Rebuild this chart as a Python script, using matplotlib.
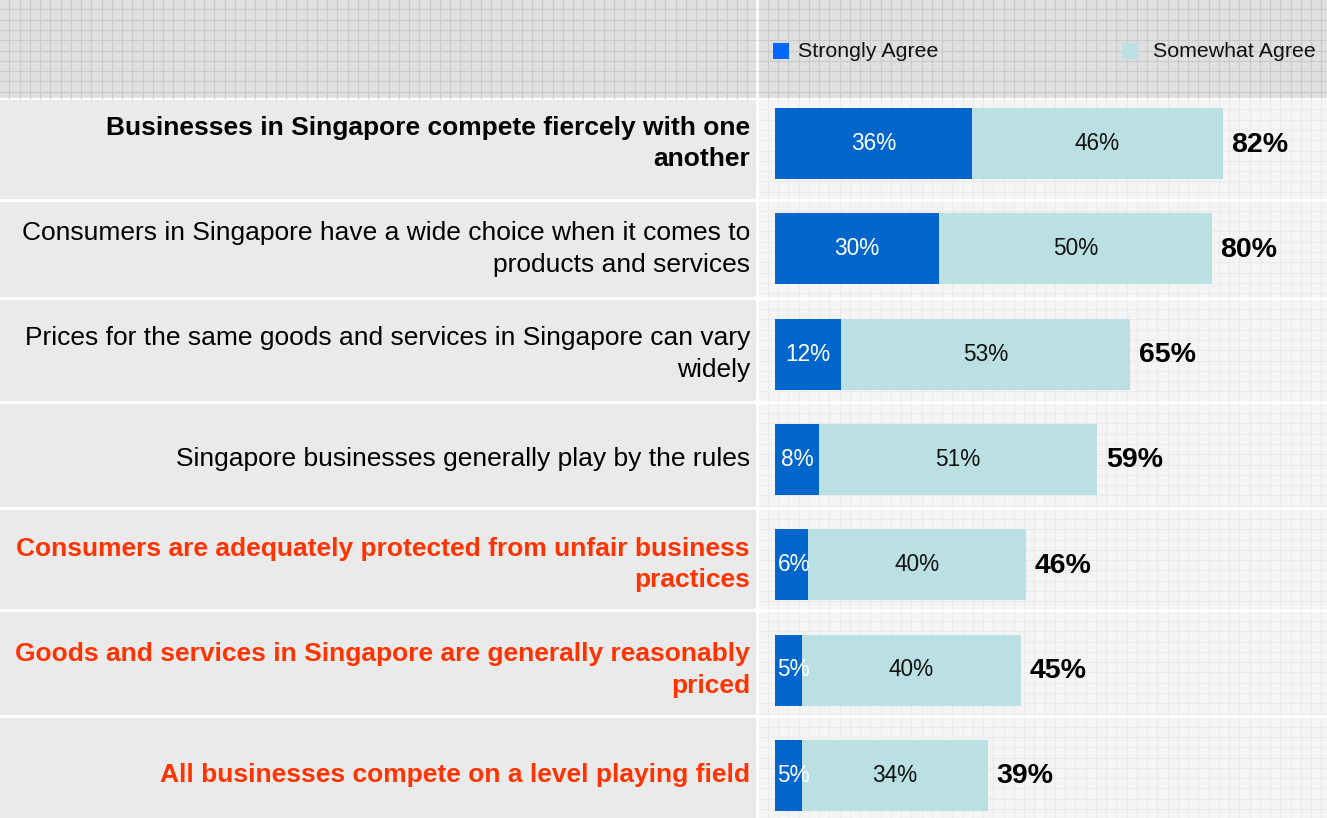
import matplotlib
matplotlib.use("Agg")
import matplotlib.pyplot as plt
import matplotlib.transforms as mtransforms
from matplotlib.patches import Rectangle
import numpy as np

plt.rcParams['font.family'] = ['Liberation Sans', 'DejaVu Sans']

# ---------------- data ----------------
categories = [
    "Businesses in Singapore compete fiercely with one\nanother",
    "Consumers in Singapore have a wide choice when it comes to\nproducts and services",
    "Prices for the same goods and services in Singapore can vary\nwidely",
    "Singapore businesses generally play by the rules",
    "Consumers are adequately protected from unfair business\npractices",
    "Goods and services in Singapore are generally reasonably\npriced",
    "All businesses compete on a level playing field",
]
label_styles = ["bold", "normal", "normal", "normal", "bold", "bold", "bold"]
label_colors = ["#000000", "#000000", "#000000", "#000000", "#FF3300", "#FF3300", "#FF3300"]
strongly_agree = [36, 30, 12, 8, 6, 5, 5]
somewhat_agree = [46, 50, 53, 51, 40, 40, 34]
totals = [82, 80, 65, 59, 46, 45, 39]
series_names = ["Strongly Agree", "Somewhat Agree"]

C_STRONG = "#0066CC"
C_SOME = "#BBE0E3"

W, H = 1327, 818
fig = plt.figure(figsize=(W / 100, H / 100), dpi=100)
fig.patch.set_facecolor("white")

# ---------------- background (pixel coords) ----------------
bg = fig.add_axes([0, 0, 1, 1], zorder=0)
bg.set_xlim(0, W)
bg.set_ylim(H, 0)
bg.axis("off")

header_top, header_bot = 0, 97.7
left_col = (0, 756)
right_col = (759, W)
for (x0, x1) in [left_col, right_col]:
    bg.add_patch(Rectangle((x0, header_top), x1 - x0, header_bot - header_top,
                           facecolor="#E0E0E0", edgecolor="none", zorder=1))
gx = np.arange(9.3, W, 10.25)
gy = np.arange(9.3, header_bot, 10.3)
for x in gx:
    for (x0, x1) in [left_col, right_col]:
        if x0 <= x <= x1:
            bg.plot([x, x], [header_top, header_bot], color="#CACACA", lw=0.8, zorder=2)
for y in gy:
    for (x0, x1) in [left_col, right_col]:
        bg.plot([x0, x1], [y, y], color="#CACACA", lw=0.8, zorder=2)

rows = [(100.3, 198.7), (201.7, 296.7), (300, 400.7), (404, 506.7),
        (510, 609), (612, 714.7), (717.7, 818)]
for (y0, y1) in rows:
    bg.add_patch(Rectangle((left_col[0], y0), left_col[1] - left_col[0], y1 - y0,
                           facecolor="#EAEAEA", edgecolor="none", zorder=1))
    bg.add_patch(Rectangle((right_col[0], y0), right_col[1] - right_col[0], y1 - y0,
                           facecolor="#F4F4F4", edgecolor="none", zorder=1))
    for x in gx:
        if right_col[0] <= x <= right_col[1]:
            bg.plot([x, x], [y0, y1], color="#EAEAEA", lw=0.7, zorder=2)
    for y in np.arange(y0 + 9, y1, 10.3):
        bg.plot([right_col[0], right_col[1]], [y, y], color="#EAEAEA", lw=0.7, zorder=2)

# legend in header
bg.add_patch(Rectangle((773.3, 43.3), 15.7, 15.7, facecolor="#0066FF", edgecolor="none", zorder=3))
bg.text(797.5, 51.3, series_names[0], fontsize=15.4, va="center", ha="left", color="#111111", zorder=3)
bg.add_patch(Rectangle((1122, 43.3), 15.7, 15.7, facecolor=C_SOME, edgecolor="none", zorder=3))
bg.text(1316, 51.3, series_names[1], fontsize=15.4, va="center", ha="right", color="#111111", zorder=3)

# ---------------- bars ----------------
px_per_pct = 5.46
x_zero = 775.0
ax_left_px, ax_right_px = 759.0, float(W)
row0_center, row_step = 143.5, 105.3
ax_top_px = row0_center - row_step / 2
ax_bot_px = ax_top_px + row_step * len(categories)
ax = fig.add_axes([ax_left_px / W, 1 - ax_bot_px / H,
                   (ax_right_px - ax_left_px) / W, (ax_bot_px - ax_top_px) / H], zorder=2)
ax.set_xlim((ax_left_px - x_zero) / px_per_pct, (ax_right_px - x_zero) / px_per_pct)
ax.set_ylim(len(categories) - 0.5, -0.5)
ax.axis("off")
ax.patch.set_alpha(0)

ypos = np.arange(len(categories))
bar_h = 71 / row_step
ax.barh(ypos, strongly_agree, height=bar_h, color=C_STRONG, edgecolor="none")
ax.barh(ypos, somewhat_agree, left=strongly_agree, height=bar_h, color=C_SOME, edgecolor="none")

for i in range(len(categories)):
    s, w, t = strongly_agree[i], somewhat_agree[i], totals[i]
    if s < 7:
        ax.text(0.45, i, f"{s}%", ha="left", va="center", color="white",
                fontsize=16.3, clip_on=False, zorder=5)
    else:
        ax.text(s / 2, i, f"{s}%", ha="center", va="center", color="white",
                fontsize=16.3, clip_on=False, zorder=5)
    ax.text(s + w / 2, i, f"{w}%", ha="center", va="center", color="#111111",
            fontsize=16.3)
    ax.text(s + w + 1.6, i + 0.01, f"{t}%", ha="left", va="center", color="#000000",
            fontsize=20.5, fontweight="bold")

# category labels
trans = mtransforms.blended_transform_factory(fig.transFigure, ax.transData)
for i, lab in enumerate(categories):
    ax.text(750 / W, i, lab, transform=trans, ha="right", va="center",
            multialignment="right", fontsize=19, fontweight=label_styles[i],
            color=label_colors[i], linespacing=1.4, clip_on=False)

fig.savefig("out.png", dpi=100, facecolor=fig.get_facecolor())
